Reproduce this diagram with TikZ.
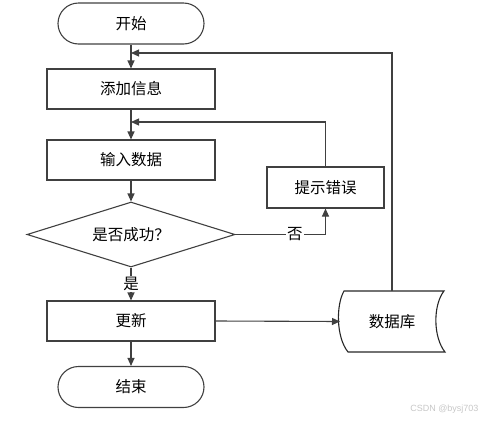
\documentclass[tikz,border=0pt]{standalone}
\usepackage{fontspec}
\setmainfont{Liberation Sans}
\newfontfamily\cjk{Noto Sans CJK SC}
\usetikzlibrary{shapes.geometric,arrows.meta}
\begin{document}
\begin{tikzpicture}[x=1pt,y=-1pt,
  every node/.style={font=\cjk\fontsize{15.5}{18}\selectfont, text=black},
  term/.style={draw=black!75, line width=1.1pt, rounded corners=20.5pt, minimum width=146pt, minimum height=41pt, inner sep=0pt},
  proc/.style={draw=black!75, line width=1.1pt, minimum width=168pt, minimum height=40pt, inner sep=0pt},
  errbox/.style={draw=black!75, line width=1.1pt, minimum width=117pt, minimum height=41pt, inner sep=0pt},
  dec/.style={draw=black!75, line width=1.1pt, diamond, shape aspect=3.2, minimum width=208pt, minimum height=65pt, inner sep=0pt},
  conn/.style={draw=black!75, line width=1.1pt},
  arr/.style={conn, -{Triangle[length=8pt,width=7pt]}},
  lab/.style={fill=white, inner sep=1pt}
]
\useasboundingbox (0,0) rectangle (483,421);
\node[term] (start) at (131,23.5) {开始};
\node[proc] (add) at (131,89) {添加信息};
\node[proc] (input) at (131,160) {输入数据};
\node[dec] (ok) at (131,234.5) {是否成功？};
\node[errbox] (err) at (325.5,187.5) {提示错误};
\node[proc] (upd) at (131,321) {更新};
\node[term] (end) at (131,387) {结束};
\node[minimum width=105pt, minimum height=61pt, inner sep=0pt] (db) at (392,321.5) {数据库};
\draw[black!85, line width=1.1pt] (344,291) .. controls (336,305) and (336,337) .. (348,352) -- (445,352)
  .. controls (433,337) and (433,305) .. (444,291) -- cycle;
\coordinate (dbl) at (340,321.5);
\coordinate (j1) at (131,53);
\coordinate (j2) at (131,122);
% main flow
\draw[arr] (start) -- (add);
\draw[arr] (add) -- (input);
\draw[arr] (input) -- (ok);
\draw[arr] (ok.south) -- node[lab, pos=0.5] {是} (upd.north);
\draw[arr] (upd) -- (end);
\draw[arr] (upd.east) -- (dbl);
% no branch
\draw[arr] (ok.east) -- node[lab, pos=0.66] {否} (ok.east -| err.south) -- (err.south);
\draw[arr] (err.north) |- (j2);
% db loop
\draw[arr] (db.north) |- (j1);
\node[font=\fontsize{9}{10}\selectfont, text=black!22, anchor=east] (wm) at (482,409) {CSDN @bysj703};
\end{tikzpicture}
\end{document}
